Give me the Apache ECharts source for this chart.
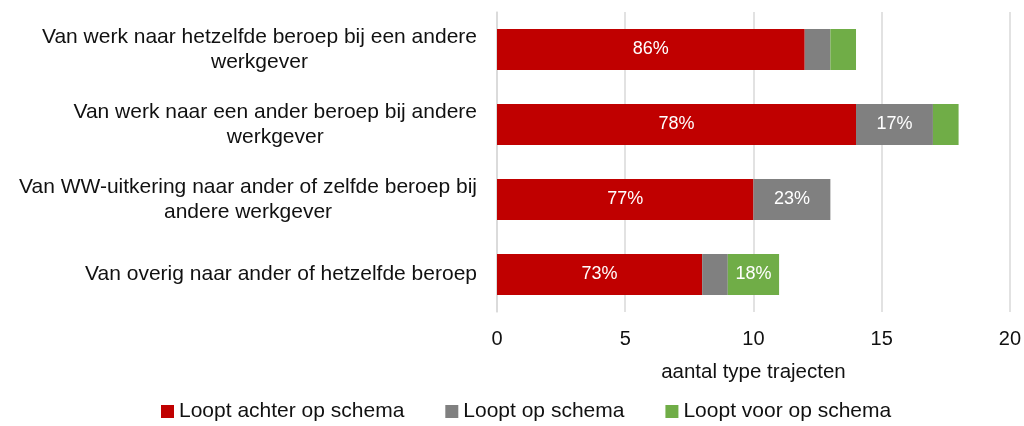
<!DOCTYPE html>
<html>
<head>
<meta charset="utf-8">
<script src="https://cdn.jsdelivr.net/npm/echarts@6/dist/echarts.min.js"></script>
<style>
  html, body { margin: 0; padding: 0; background: #fff; }
  #chart { width: 1024px; height: 426px; }
</style>
</head>
<body>
<div id="chart"></div>
<script>
// trajecten per type, gestapeld
var categories = [
  "Van werk naar hetzelfde beroep bij een andere\nwerkgever",
  "Van werk naar een ander beroep bij andere\nwerkgever",
  "Van WW-uitkering naar ander of zelfde beroep bij\nandere werkgever",
  "Van overig naar ander of hetzelfde beroep"
];
var achter = [12, 14, 10, 8];
var op = [1, 3, 3, 1];
var voor = [1, 1, 0, 2];

var achterLabels = ["86%", "78%", "77%", "73%"];
var opLabels = ["", "17%", "23%", ""];
var voorLabels = ["", "", "", "18%"];

var xTicks = [0, 5, 10, 15, 20];

var FONT = "Arial";
var TEXT = "#111";

var chart = echarts.init(document.getElementById("chart"));

function makeSeries(name, values, labels, color) {
  return {
    name: name,
    type: "bar",
    stack: "totaal",
    barWidth: 41,
    itemStyle: { color: color },
    label: {
      show: true,
      position: "inside",
      color: "#fff",
      fontSize: 18,
      fontFamily: FONT,
      formatter: function (p) { return labels[p.dataIndex]; }
    },
    data: values
  };
}

var option = {
  animation: false,
  textStyle: { fontFamily: FONT },
  grid: { left: 497, right: 14, top: 12, bottom: 114 },
  legend: {
    top: 396,
    left: 156,
    itemWidth: 13,
    itemHeight: 13,
    itemGap: 41,
    icon: "rect",
    textStyle: { fontSize: 21, color: TEXT, fontFamily: FONT },
    data: ["Loopt achter op schema", "Loopt op schema", "Loopt voor op schema"]
  },
  xAxis: {
    type: "value",
    min: 0,
    max: 20,
    interval: 5,
    name: "aantal type trajecten",
    nameLocation: "middle",
    nameGap: 50,
    nameTextStyle: { fontSize: 20.5, color: TEXT, fontFamily: FONT },
    axisLine: { show: false },
    axisTick: { show: false },
    axisLabel: {
      fontSize: 20,
      color: TEXT,
      fontFamily: FONT,
      margin: 17,
      formatter: function (v) { return xTicks.indexOf(v) >= 0 ? String(v) : ""; }
    },
    splitLine: { show: true, lineStyle: { color: "#d9d9d9", width: 1.5 } }
  },
  yAxis: {
    type: "category",
    inverse: true,
    data: categories,
    axisLine: { show: true, lineStyle: { color: "#d9d9d9", width: 1.5 } },
    axisTick: { show: false },
    axisLabel: {
      margin: 20,
      align: "right",
      lineHeight: 25,
      formatter: function (v) {
        return v.split("\n").map(function (s) { return "{c|" + s + "}"; }).join("\n");
      },
      rich: {
        c: { align: "center", fontSize: 21, color: TEXT, lineHeight: 25, fontFamily: FONT }
      }
    }
  },
  series: [
    makeSeries("Loopt achter op schema", achter, achterLabels, "#c00000"),
    makeSeries("Loopt op schema", op, opLabels, "#808080"),
    makeSeries("Loopt voor op schema", voor, voorLabels, "#70ad47")
  ]
};

chart.setOption(option);
</script>
</body>
</html>
